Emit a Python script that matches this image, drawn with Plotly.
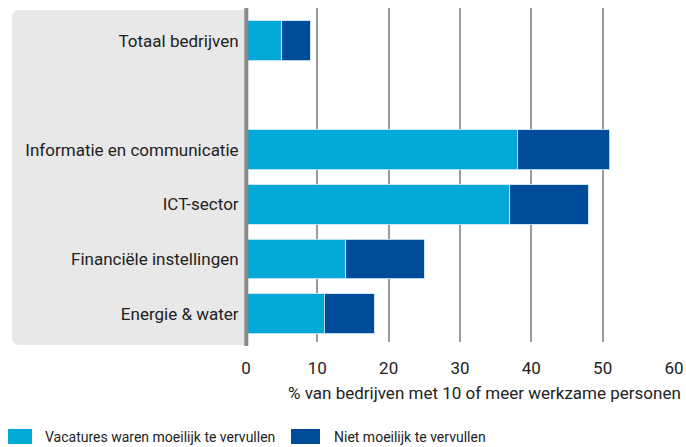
import plotly.graph_objects as go

categories = ["Totaal bedrijven", " ", "Informatie en communicatie", "ICT-sector",
              "Financiële instellingen", "Energie & water"]
moeilijk = [5, None, 38, 37, 14, 11]
niet_moeilijk = [4, None, 13, 11, 11, 7]
x_ticks = [0, 10, 20, 30, 40, 50, 60]
series_names = ["Vacatures waren moeilijk te vervullen", "Niet moeilijk te vervullen"]
colors = ["#00a9d8", "#004c9a"]
x_title = "% van bedrijven met 10 of meer werkzame personen"

FONT = "Roboto"
TXT = "#222222"
FS = 17

fig = go.Figure()
for name, vals, col in zip(series_names, [moeilijk, niet_moeilijk], colors):
    fig.add_trace(go.Bar(
        y=categories, x=vals, name=name, orientation="h", showlegend=False,
        marker=dict(color=col, line=dict(color="rgba(200,230,245,0.9)", width=1)),
    ))

W, H = 686, 447
L, R, T, B = 246, 12, 8, 105
pw = W - L - R
ph = H - T - B

def px_x(p):
    return (p - L) / pw

def px_y(p):
    return 1 - (p - T) / ph

# grey label panel with rounded left corners
x0, x1 = px_x(12), px_x(246)
y0, y1 = px_y(345), px_y(10)
rx, ry = 8 / pw, 8 / ph
path = (f"M {x1},{y1} L {x0+rx},{y1} Q {x0},{y1} {x0},{y1-ry} "
        f"L {x0},{y0+ry} Q {x0},{y0} {x0+rx},{y0} L {x1},{y0} Z")
shapes = [dict(type="path", path=path, xref="paper", yref="paper",
               fillcolor="#e8e8e8", line=dict(width=0), layer="below"),
          dict(type="line", xref="paper", yref="paper", x0=px_x(246.3), x1=px_x(246.3),
               y0=px_y(346), y1=px_y(8), line=dict(color="#8a8a8a", width=4), layer="above")]

annotations = [dict(text=x_title, xref="paper", yref="paper", x=px_x(683), y=px_y(393),
                    xanchor="right", yanchor="middle", showarrow=False,
                    font=dict(size=FS, color=TXT))]

# legend (wide swatches like the original)
LEG_FS = 14
legend_pos = [(8, 32, 43), (291, 320, 332)]
for (sx0, sx1, tx), name, col in zip(legend_pos, series_names, colors):
    shapes.append(dict(type="rect", xref="paper", yref="paper",
                       x0=px_x(sx0), x1=px_x(sx1), y0=px_y(444), y1=px_y(429),
                       fillcolor=col, line=dict(width=0)))
    annotations.append(dict(text=name, xref="paper", yref="paper", x=px_x(tx), y=px_y(437),
                            xanchor="left", yanchor="middle", showarrow=False,
                            font=dict(size=LEG_FS, color=TXT)))

fig.update_layout(
    width=W, height=H,
    margin=dict(l=L, r=R, t=T, b=B, pad=0, autoexpand=False),
    barmode="stack", bargap=0.27,
    plot_bgcolor="rgba(0,0,0,0)", paper_bgcolor="white",
    font=dict(family=FONT, size=FS, color=TXT),
    shapes=shapes, annotations=annotations, showlegend=False,
    xaxis=dict(range=[0, 60], tickvals=x_ticks, showgrid=True, gridcolor="#9a9a9a",
               gridwidth=1.5, zeroline=False, showline=False, ticks="outside",
               ticklen=11, tickcolor="rgba(0,0,0,0)", tickfont=dict(size=FS, color=TXT),
               automargin=False, fixedrange=True),
    yaxis=dict(categoryorder="array", categoryarray=categories, range=[5.52, -0.6],
               showgrid=False, zeroline=False, showline=False, ticks="outside", ticklen=3,
               tickcolor="rgba(0,0,0,0)", tickfont=dict(size=FS, color=TXT),
               automargin=False, fixedrange=True),
)

fig.write_html("out.html", config={"displayModeBar": False},
               post_script="document.body.style.margin='0';")
